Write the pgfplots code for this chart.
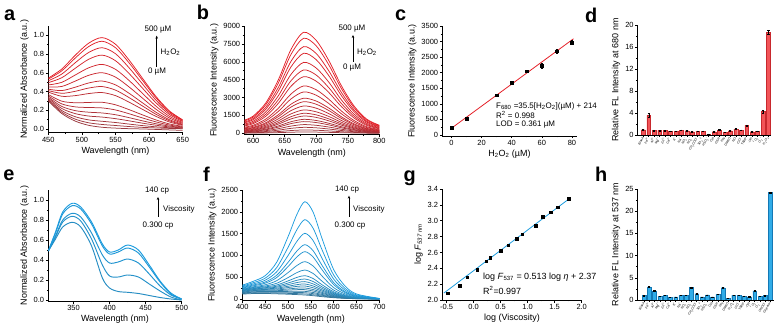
\documentclass[border=0pt]{standalone}
\usepackage{pgfplots}
\pgfplotsset{compat=1.18}
\usepackage{pgfplotstable}
\usepackage{fontspec}
\setmainfont{Liberation Sans}
\usetikzlibrary{arrows.meta}
\definecolor{redA}{RGB}{228,32,40}
\definecolor{blueA}{RGB}{28,156,222}
\definecolor{dgray}{RGB}{80,80,85}
\definecolor{barR}{RGB}{242,84,88}
\definecolor{barRd}{RGB}{200,40,45}
\definecolor{barB}{RGB}{48,172,232}
\definecolor{barBd}{RGB}{20,120,180}
\newcommand{\tsb}[1]{\textsubscript{#1}}
\newcommand{\tsp}[1]{\textsuperscript{#1}}

\pgfplotsset{
  panel/.style={
    scale only axis, anchor=south west,
    axis x line=bottom, axis y line=left,
    axis line style={-, line width=0.6pt},
    tick align=outside, major tick length=2.5bp, minor tick length=1.4bp,
    tick style={black, line width=0.5pt},
    tick label style={font=\fontsize{7.5}{8}\selectfont},
    label style={font=\fontsize{9}{10}\selectfont},
    /pgf/number format/assume math mode=true,
    /pgf/number format/1000 sep={},
    enlargelimits=false,
    xticklabel style={inner sep=1.5pt},
    yticklabel style={inner sep=1.5pt},
  },
  ydec/.style={yticklabel style={/pgf/number format/fixed,/pgf/number format/fixed zerofill,/pgf/number format/precision=1}},
  xdec/.style={xticklabel style={/pgf/number format/fixed,/pgf/number format/fixed zerofill,/pgf/number format/precision=1}},
  cv/.style={line width=0.75pt, smooth, no markers, color=#1},
  cvt/.style={line width=0.95pt, smooth, no markers, color=#1},
}

\pgfplotstableread{
x a1 a2 a3 a4 a5 a6 a7 a8 a9 a10 a11 a12 a13 a14 a15 a16
450 0.543 0.533 0.515 0.495 0.470 0.448 0.425 0.410 0.394 0.368 0.353 0.339 0.328 0.316 0.308 0.300
470 0.640 0.621 0.586 0.547 0.498 0.454 0.410 0.381 0.349 0.297 0.268 0.241 0.219 0.197 0.180 0.165
490 0.787 0.757 0.707 0.648 0.576 0.511 0.446 0.402 0.356 0.280 0.236 0.196 0.164 0.131 0.105 0.084
510 0.916 0.880 0.817 0.744 0.653 0.573 0.491 0.437 0.378 0.283 0.229 0.179 0.138 0.097 0.066 0.039
530 0.976 0.937 0.868 0.789 0.690 0.601 0.512 0.453 0.389 0.285 0.225 0.171 0.127 0.082 0.048 0.018
550 0.905 0.868 0.804 0.729 0.637 0.554 0.471 0.415 0.356 0.258 0.203 0.152 0.110 0.069 0.037 0.009
570 0.738 0.708 0.655 0.594 0.519 0.450 0.382 0.336 0.287 0.207 0.163 0.121 0.087 0.052 0.026 0.003
590 0.543 0.521 0.482 0.437 0.381 0.330 0.280 0.246 0.210 0.151 0.118 0.087 0.062 0.036 0.017 0.000
610 0.349 0.335 0.310 0.281 0.245 0.212 0.180 0.158 0.135 0.097 0.076 0.056 0.040 0.023 0.011 -0.005
630 0.194 0.186 0.172 0.156 0.136 0.118 0.100 0.088 0.075 0.054 0.042 0.031 0.022 0.013 0.006 -0.010
650 0.097 0.093 0.086 0.078 0.068 0.059 0.050 0.044 0.038 0.027 0.021 0.016 0.011 0.007 0.003 -0.015
}\tabA

\pgfplotstableread{
x b1 b2 b3 b4 b5 b6 b7 b8 b9 b10 b11 b12 b13 b14 b15 b16 b17 b18 b19 b20 b21
586 1101 1036 945 872 774 690 618 516 451 382 345 298 255 218 189 152 127 95 65 36 14
600 1440 1355 1236 1141 1012 903 808 675 590 500 451 389 333 286 247 199 167 124 85 48 19
620 2541 2391 2181 2013 1785 1593 1425 1191 1041 882 795 687 588 504 435 351 294 219 150 84 33
640 4489 4224 3853 3556 3154 2814 2518 2104 1839 1558 1405 1214 1039 890 769 620 519 387 265 148 58
660 7030 6615 6034 5569 4939 4407 3943 3295 2880 2440 2200 1901 1627 1394 1204 971 813 606 415 232 91
680 8470 7970 7270 6710 5950 5310 4750 3970 3470 2940 2650 2290 1960 1680 1450 1170 980 730 500 280 110
700 7792 7332 6688 6173 5474 4885 4370 3652 3192 2705 2438 2107 1803 1546 1334 1076 902 672 460 258 101
720 6098 5738 5234 4831 4284 3823 3420 2858 2498 2117 1908 1649 1411 1210 1044 842 706 526 360 202 79
740 3981 3746 3417 3154 2797 2496 2233 1866 1631 1382 1246 1076 921 790 682 550 461 343 235 132 52
760 2287 2152 1963 1812 1607 1434 1283 1072 937 794 716 618 529 454 392 316 265 197 135 76 30
780 1186 1116 1018 939 833 743 665 556 486 412 371 321 274 235 203 164 137 102 70 39 15
800 678 638 582 537 476 425 380 318 278 235 212 183 157 134 116 94 78 58 40 22 9
}\tabB

\pgfplotstableread{
x y e
0 230 25
10 530 30
30 1280 30
40 1680 35
50 2050 40
60 2230 80
70 2690 70
80 2975 70
}\tabC

\pgfplotstableread{
x y e
0 0.96 0.08
1 3.59 0.30
2 0.84 0.06
3 0.84 0.06
4 0.84 0.06
5 0.72 0.06
6 0.66 0.06
7 0.90 0.06
8 0.78 0.06
9 0.60 0.06
10 0.72 0.06
11 0.72 0.06
12 0.18 0.05
13 0.60 0.06
14 0.90 0.08
15 0.48 0.06
16 0.78 0.06
17 1.08 0.08
18 0.90 0.06
19 1.74 0.10
20 0.60 0.06
21 0.72 0.06
22 4.25 0.30
23 18.70 0.35
}\tabD

\pgfplotstableread{
x e1 e2 e3 e4 e5
315 0.49 0.49 0.49 0.49 0.49
325 0.68 0.67 0.64 0.63 0.61
335 0.88 0.86 0.80 0.78 0.73
348 0.967 0.943 0.867 0.837 0.777
360 0.93 0.91 0.83 0.79 0.73
375 0.78 0.76 0.67 0.61 0.54
390 0.56 0.54 0.45 0.35 0.22
400 0.48 0.46 0.37 0.24 0.12
412 0.50 0.48 0.38 0.23 0.085
425 0.55 0.52 0.41 0.25 0.077
440 0.50 0.47 0.37 0.23 0.065
455 0.35 0.33 0.26 0.16 0.045
470 0.19 0.18 0.14 0.09 0.025
485 0.07 0.06 0.05 0.03 0.01
500 0.01 0.01 0.01 0.00 0.00
}\tabE

\pgfplotstableread{
x f1 f2 f3 f4 f5 f6 f7 f8 f9 f10 f11 f12 f13 f14 f15 f16 f17 f18
400 317 297 279 263 250 235 224 216 206 200 190 180 171 161 148 138 124 112
425 410 377 348 324 304 282 266 253 240 231 218 207 194 183 167 156 141 126
450 535 477 430 390 362 326 298 278 260 248 232 219 204 191 173 160 143 127
475 838 716 620 541 489 418 360 320 292 271 249 229 209 191 170 154 135 119
500 1424 1181 994 838 741 604 490 414 366 328 292 262 230 204 175 153 129 110
520 1950 1598 1329 1106 969 771 608 497 430 378 330 290 249 215 179 151 124 101
537 2232 1820 1506 1246 1086 856 665 535 459 399 345 299 253 215 176 145 116 92
555 1994 1624 1341 1108 964 758 586 470 402 347 299 258 218 184 150 123 97 76
575 1375 1120 925 765 666 523 405 324 277 240 207 179 151 128 104 85 68 53
600 676 552 458 379 331 262 205 166 142 124 108 94 80 68 56 47 38 30
625 298 244 203 168 147 118 92 76 66 57 50 43 38 33 27 22 19 16
650 116 96 79 67 58 47 37 31 26 23 21 18 16 13 12 9 8 6
700 13 11 10 9 8 7 5 4 4 3 3 3 3 3 2 2 1 1
}\tabF

\pgfplotstableread{
x y
-0.48 2.088
-0.26 2.18
-0.117 2.29
0.068 2.38
0.235 2.49
0.31 2.53
0.506 2.62
0.64 2.69
0.80 2.77
0.895 2.83
1.15 2.94
1.28 3.05
1.43 3.105
1.56 3.17
1.76 3.28
}\tabG

\pgfplotstableread{
x y e
0 0.98 0.08
1 2.93 0.10
2 2.03 0.10
3 0.83 0.06
4 1.05 0.06
5 0.60 0.05
6 0.68 0.05
7 1.05 0.06
8 1.05 0.06
9 2.86 0.10
10 1.43 0.08
11 0.68 0.05
12 1.13 0.06
13 0.68 0.05
14 1.28 0.06
15 2.78 0.10
16 0.38 0.05
17 1.05 0.06
18 1.05 0.06
19 0.90 0.05
20 0.75 0.05
21 2.03 0.08
22 0.90 0.05
23 0.98 0.06
24 24.20 0.15
}\tabH

\begin{document}
\begin{tikzpicture}
\useasboundingbox (0,0) rectangle (780bp,328bp);

% ---------------- a ----------------
\begin{axis}[panel, at={(48.3bp,195.3bp)}, width=134.4bp, height=106.7bp,
  xmin=450, xmax=650, ymin=-0.04, ymax=1.1,
  xtick={450,500,550,600,650}, ytick={0,0.2,0.4,0.6,0.8,1.0},
  minor x tick num=1, minor y tick num=1, ydec,
  xlabel={Wavelength (nm)}, ylabel={Normalized Absorbance (a.u.)}]
\addplot[cv=redA!50!dgray] table[x=x,y=a16]{\tabA};
\addplot[cv=redA!53!dgray] table[x=x,y=a15]{\tabA};
\addplot[cv=redA!57!dgray] table[x=x,y=a14]{\tabA};
\addplot[cv=redA!60!dgray] table[x=x,y=a13]{\tabA};
\addplot[cv=redA!63!dgray] table[x=x,y=a12]{\tabA};
\addplot[cv=redA!67!dgray] table[x=x,y=a11]{\tabA};
\addplot[cv=redA!70!dgray] table[x=x,y=a10]{\tabA};
\addplot[cv=redA!73!dgray] table[x=x,y=a9]{\tabA};
\addplot[cv=redA!77!dgray] table[x=x,y=a8]{\tabA};
\addplot[cv=redA!80!dgray] table[x=x,y=a7]{\tabA};
\addplot[cv=redA!83!dgray] table[x=x,y=a6]{\tabA};
\addplot[cv=redA!87!dgray] table[x=x,y=a5]{\tabA};
\addplot[cv=redA!90!dgray] table[x=x,y=a4]{\tabA};
\addplot[cv=redA!93!dgray] table[x=x,y=a3]{\tabA};
\addplot[cv=redA!97!dgray] table[x=x,y=a2]{\tabA};
\addplot[cv=redA] table[x=x,y=a1]{\tabA};
\end{axis}

% ---------------- b ----------------
\begin{axis}[panel, at={(244.3bp,193.5bp)}, width=135bp, height=108.5bp,
  xmin=586, xmax=800, ymin=-100, ymax=9000,
  xtick={600,650,700,750,800}, ytick={0,1500,3000,4500,6000,7500,9000},
  minor x tick num=1, minor y tick num=1,
  xlabel={Wavelength (nm)}, ylabel={Fluorescence Intensity (a.u.)}]
\addplot[cv=redA!50!dgray] table[x=x,y=b21]{\tabB};
\addplot[cv=redA!53!dgray] table[x=x,y=b20]{\tabB};
\addplot[cv=redA!55!dgray] table[x=x,y=b19]{\tabB};
\addplot[cv=redA!58!dgray] table[x=x,y=b18]{\tabB};
\addplot[cv=redA!60!dgray] table[x=x,y=b17]{\tabB};
\addplot[cv=redA!63!dgray] table[x=x,y=b16]{\tabB};
\addplot[cv=redA!65!dgray] table[x=x,y=b15]{\tabB};
\addplot[cv=redA!68!dgray] table[x=x,y=b14]{\tabB};
\addplot[cv=redA!70!dgray] table[x=x,y=b13]{\tabB};
\addplot[cv=redA!73!dgray] table[x=x,y=b12]{\tabB};
\addplot[cv=redA!75!dgray] table[x=x,y=b11]{\tabB};
\addplot[cv=redA!78!dgray] table[x=x,y=b10]{\tabB};
\addplot[cv=redA!80!dgray] table[x=x,y=b9]{\tabB};
\addplot[cv=redA!83!dgray] table[x=x,y=b8]{\tabB};
\addplot[cv=redA!85!dgray] table[x=x,y=b7]{\tabB};
\addplot[cv=redA!88!dgray] table[x=x,y=b6]{\tabB};
\addplot[cv=redA!90!dgray] table[x=x,y=b5]{\tabB};
\addplot[cv=redA!93!dgray] table[x=x,y=b4]{\tabB};
\addplot[cv=redA!95!dgray] table[x=x,y=b3]{\tabB};
\addplot[cv=redA!98!dgray] table[x=x,y=b2]{\tabB};
\addplot[cv=redA] table[x=x,y=b1]{\tabB};
\end{axis}

% ---------------- c ----------------
\begin{axis}[panel, at={(442.3bp,192.1bp)}, width=134.2bp, height=109.9bp,
  xmin=-6, xmax=83, ymin=-30, ymax=3500,
  xtick={0,20,40,60,80}, ytick={0,500,1000,1500,2000,2500,3000,3500},
  minor x tick num=1, minor y tick num=1,
  xlabel={H\tsb{2}O\tsb{2} (µM)}, ylabel={Fluorescence Intensity (a.u.)}]
\addplot[redA, line width=0.8pt] coordinates {(0,214) (81,3089.5)};
\addplot[only marks, mark=square*, mark size=1.4bp, black,
  error bars/.cd, y dir=both, y explicit,
  error bar style={black, line width=0.4pt},
  error mark options={rotate=90, black, mark size=1.3bp, line width=0.4pt}]
  table[x=x, y=y, y error=e]{\tabC};
\end{axis}

% ---------------- d ----------------
\begin{axis}[panel, at={(637.3bp,193bp)}, width=134.1bp, height=110bp,
  xmin=-1.1, xmax=23.55, ymin=0, ymax=20,
  ytick={0,4,8,12,16,20}, minor y tick num=1,
  xtick={0,...,23}, major tick length=2bp,
  xticklabels={Blank, Fe\tsp{3+}, Al\tsp{3+}, Mg\tsp{2+}, Zn\tsp{2+}, Ca\tsp{2+}, K\tsp{+}, Na\tsp{+}, NO\tsb{3}\tsp{-}, NO\tsb{2}\tsp{-}, CH\tsb{3}COO\tsp{-}, SO\tsb{4}\tsp{2-}, HSO\tsb{3}\tsp{-}, Cys, GSH, Hcy, DMSO, NO, ClO\tsp{-}, TBHP, ·OH, \tsp{1}O\tsb{2}, O\tsb{2}\tsp{·-}, H\tsb{2}O\tsb{2}},
  xticklabel style={rotate=60, anchor=east, font=\fontsize{3.2}{3.4}\selectfont, inner sep=0.6pt},
  ylabel={Relative FL Intensity at 680 nm}]
\addplot[ybar, bar width=3.8bp, bar shift=0pt, fill=barR, draw=barRd, line width=0.3pt,
  error bars/.cd, y dir=both, y explicit,
  error bar style={black, line width=0.4pt},
  error mark options={rotate=90, black, mark size=1.1bp, line width=0.4pt}]
  table[x=x, y=y, y error=e]{\tabD};
\end{axis}

% ---------------- e ----------------
\begin{axis}[panel, at={(48.3bp,27bp)}, width=133.4bp, height=111bp,
  xmin=315, xmax=500, ymin=-0.01, ymax=1.1,
  xtick={350,400,450,500}, ytick={0,0.2,0.4,0.6,0.8,1.0},
  minor x tick num=1, minor y tick num=1, ydec,
  xlabel={Wavelength (nm)}, ylabel={Normalized Absorbance (a.u.)}]
\addplot[cvt=blueA!80!dgray] table[x=x,y=e5]{\tabE};
\addplot[cvt=blueA!85!dgray] table[x=x,y=e4]{\tabE};
\addplot[cvt=blueA!90!dgray] table[x=x,y=e3]{\tabE};
\addplot[cvt=blueA!95!dgray] table[x=x,y=e2]{\tabE};
\addplot[cvt=blueA] table[x=x,y=e1]{\tabE};
\end{axis}

% ---------------- f ----------------
\begin{axis}[panel, at={(242.3bp,27.9bp)}, width=137bp, height=110.1bp,
  xmin=400, xmax=700, ymin=-25, ymax=2500,
  xtick={400,450,500,550,600,650,700}, ytick={0,500,1000,1500,2000,2500},
  minor y tick num=1,
  xlabel={Wavelength (nm)}, ylabel={Fluorescence Intensity (a.u.)}]
\addplot[cv=blueA!50!dgray] table[x=x,y=f18]{\tabF};
\addplot[cv=blueA!53!dgray] table[x=x,y=f17]{\tabF};
\addplot[cv=blueA!56!dgray] table[x=x,y=f16]{\tabF};
\addplot[cv=blueA!59!dgray] table[x=x,y=f15]{\tabF};
\addplot[cv=blueA!62!dgray] table[x=x,y=f14]{\tabF};
\addplot[cv=blueA!65!dgray] table[x=x,y=f13]{\tabF};
\addplot[cv=blueA!68!dgray] table[x=x,y=f12]{\tabF};
\addplot[cv=blueA!71!dgray] table[x=x,y=f11]{\tabF};
\addplot[cv=blueA!74!dgray] table[x=x,y=f10]{\tabF};
\addplot[cv=blueA!76!dgray] table[x=x,y=f9]{\tabF};
\addplot[cv=blueA!79!dgray] table[x=x,y=f8]{\tabF};
\addplot[cv=blueA!82!dgray] table[x=x,y=f7]{\tabF};
\addplot[cv=blueA!85!dgray] table[x=x,y=f6]{\tabF};
\addplot[cv=blueA!88!dgray] table[x=x,y=f5]{\tabF};
\addplot[cv=blueA!91!dgray] table[x=x,y=f4]{\tabF};
\addplot[cv=blueA!94!dgray] table[x=x,y=f3]{\tabF};
\addplot[cv=blueA!97!dgray] table[x=x,y=f2]{\tabF};
\addplot[cv=blueA] table[x=x,y=f1]{\tabF};
\end{axis}

% ---------------- g ----------------
\begin{axis}[panel, at={(442.3bp,28bp)}, width=139.4bp, height=111bp,
  xmin=-0.58, xmax=2.0, ymin=2.0, ymax=3.4,
  xtick={-0.5,0,0.5,1,1.5,2}, ytick={2,2.2,2.4,2.6,2.8,3,3.2,3.4},
  minor x tick num=1, xdec, ydec,
  xlabel={log (Viscosity)}, ylabel={log \textit{F}\tsb{\textit{537 nm}}}]
\addplot[blueA, line width=0.8pt] coordinates {(-0.55,2.088) (1.78,3.283)};
\addplot[only marks, mark=square*, mark size=1.3bp, black] table[x=x,y=y]{\tabG};
\end{axis}

% ---------------- h ----------------
\begin{axis}[panel, at={(637.3bp,28bp)}, width=136.2bp, height=111bp,
  xmin=-1.27, xmax=24.57, ymin=0, ymax=25,
  ytick={0,5,10,15,20,25}, minor y tick num=1,
  xtick={0,...,24}, major tick length=2bp,
  xticklabels={Blank, Fe\tsp{3+}, Al\tsp{3+}, Mg\tsp{2+}, Zn\tsp{2+}, Ca\tsp{2+}, K\tsp{+}, Na\tsp{+}, NO\tsb{3}\tsp{-}, NO\tsb{2}\tsp{-}, CH\tsb{3}COO\tsp{-}, SO\tsb{4}\tsp{2-}, HSO\tsb{3}\tsp{-}, Cys, GSH, Hcy, DMSO, H\tsb{2}O\tsb{2}, ClO\tsp{-}, TBHP, ·OH, \tsp{1}O\tsb{2}, O\tsb{2}\tsp{·-}, ONOO\tsp{-}, Glycerol},
  xticklabel style={rotate=60, anchor=east, font=\fontsize{3.2}{3.4}\selectfont, inner sep=0.6pt},
  ylabel={Relative FL Intensity at 537 nm}]
\addplot[ybar, bar width=3.8bp, bar shift=0pt, fill=barB, draw=barBd, line width=0.3pt,
  error bars/.cd, y dir=both, y explicit,
  error bar style={black, line width=0.4pt},
  error mark options={rotate=90, black, mark size=1.1bp, line width=0.4pt}]
  table[x=x, y=y, y error=e]{\tabH};
\end{axis}

% ---------------- panel letters ----------------
\tikzset{plet/.style={anchor=base west, inner sep=0pt, font=\fontsize{20}{20}\selectfont\bfseries}}
\node[plet] at (4bp,307bp) {a};
\node[plet] at (196.7bp,308bp) {b};
\node[plet] at (395bp,307bp) {c};
\node[plet] at (585bp,305.3bp) {d};
\node[plet] at (3.3bp,147bp) {e};
\node[plet] at (203bp,146.7bp) {f};
\node[plet] at (403.3bp,146.7bp) {g};
\node[plet] at (595bp,146bp) {h};

% ---------------- annotations ----------------
\tikzset{ann/.style={inner sep=0pt, font=\fontsize{8}{9}\selectfont},
         annw/.style={ann, anchor=west},
         arr/.style={-{Stealth[length=3bp,width=2.6bp]}, line width=0.7pt}}
\node[ann] at (158bp,298bp) {500 µM};
\draw[arr] (156.7bp,261.3bp) -- (156.7bp,292.3bp);
\node[annw] at (160.5bp,276bp) {H\tsb{2}O\tsb{2}};
\node[ann] at (157bp,256bp) {0 µM};

\node[ann] at (352bp,299bp) {500 µM};
\draw[arr] (353bp,266bp) -- (353bp,293bp);
\node[annw] at (357bp,276bp) {H\tsb{2}O\tsb{2}};
\node[ann] at (352bp,260bp) {0 µM};

\node[ann] at (157bp,137bp) {140 cp};
\draw[arr] (158bp,111bp) -- (158bp,131bp);
\node[annw] at (163bp,118.3bp) {Viscosity};
\node[ann] at (158bp,102.3bp) {0.300 cp};

\node[ann] at (347bp,138bp) {140 cp};
\draw[arr] (349bp,111.3bp) -- (349bp,132.3bp);
\node[annw] at (353bp,119bp) {Viscosity};
\node[ann] at (350bp,102.3bp) {0.300 cp};

\tikzset{eqc/.style={inner sep=0pt, anchor=west, font=\fontsize{8}{9}\selectfont},
         eqg/.style={inner sep=0pt, anchor=west, font=\fontsize{9}{10}\selectfont}}
\node[eqc] at (496bp,222bp) {F\tsb{680} =35.5[H\tsb{2}O\tsb{2}](µM) + 214};
\node[eqc] at (496bp,213bp) {R\tsp{2} = 0.998};
\node[eqc] at (496bp,203.5bp) {LOD = 0.361 µM};
\node[eqg] at (483bp,51bp) {log \textit{F}\tsb{537} = 0.513 log \textit{η} + 2.37};
\node[eqg] at (483bp,37.3bp) {R\tsp{2}=0.997};
\end{tikzpicture}
\end{document}
